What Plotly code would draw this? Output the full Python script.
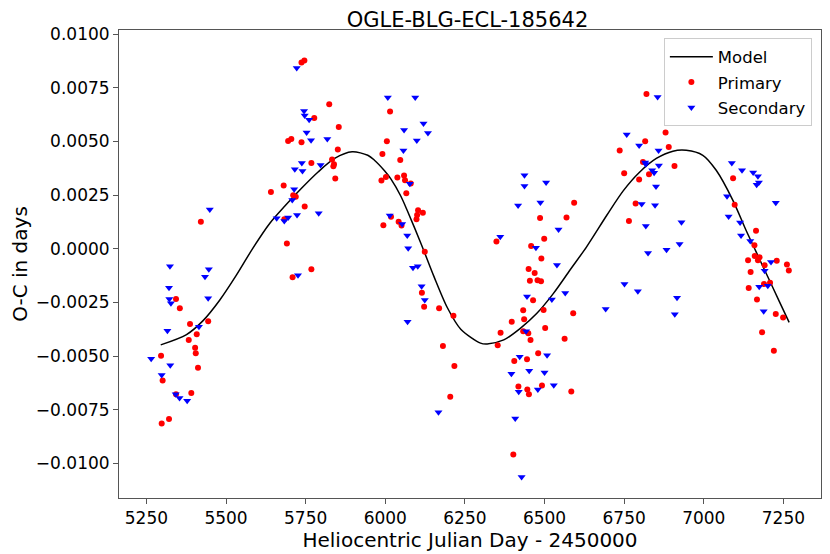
import plotly.graph_objects as go

# O-C diagram values (HJD - 2450000, O-C in days)
primary_hjd = [
    5421, 5343, 5355, 5387, 5444, 5408, 5383, 5403, 5405, 5296, 5412, 5301, 5343, 5391, 5321, 5298,
    5737, 5746, 5824, 5777, 5854, 5695, 5705, 5737, 5851, 5768, 5833, 5839, 5837, 5843, 5681, 5641,
    5711, 5719, 5747, 5683, 5691, 5768, 5709,
    6015, 6005, 5991, 6047, 5988, 6002, 6038, 6059, 6062, 6080, 6066, 6103, 6098, 6118, 6100, 6018,
    6042, 5994, 6051, 6124, 6115, 6122, 6169, 6214, 6181, 6217, 6204,
    6593, 6486, 6569, 6499, 6349, 6458, 6490, 6450, 6469, 6454, 6478, 6489, 6464, 6433, 6497, 6397,
    6436, 6590, 6502, 6362, 6433, 6449, 6456, 6563, 6353, 6480, 6405, 6445, 6418, 6446, 6492, 6451,
    6584, 6402,
    6820, 6880, 6816, 6736, 6890, 6809, 6750, 6828, 6908, 6797, 6786, 6765,
    7092, 7097, 7164, 7159, 7160, 7175, 7170, 7139, 7229, 7191, 7261, 7267, 7147, 7189, 7208, 7141,
    7167, 7226, 7249, 7183, 7220,
]
primary_oc = [
    0.00126, -0.00234, -0.00277, -0.00351, -0.00338, -0.00398, -0.00425, -0.00462, -0.00487, -0.00499,
    -0.00555, -0.00614, -0.00678, -0.00673, -0.00794, -0.00815,
    0.00869, 0.00878, 0.00674, 0.00610, 0.00568, 0.00503, 0.00512, 0.00497, 0.00463, 0.00400,
    0.00416, 0.00394, 0.00385, 0.00328, 0.00295, 0.00265, 0.00249, 0.00242, 0.00197, 0.00138,
    0.00025, -0.00096, -0.00133,
    0.00640, 0.00501, 0.00442, 0.00414, 0.00318, 0.00335, 0.00332, 0.00342, 0.00320, 0.00304,
    0.00259, 0.00180, 0.00138, 0.00168, 0.00157, 0.00149, 0.00126, 0.00110, 0.00109, -0.00014,
    -0.00205, -0.00270, -0.00277, -0.00312, -0.00453, -0.00547, -0.00690,
    0.00214, 0.00144, 0.00146, 0.00047, 0.00034, 0.00013, -0.00045, -0.00094, -0.00113, -0.00149,
    -0.00147, -0.00152, -0.00240, -0.00287, -0.00285, -0.00340, -0.00329, -0.00301, -0.00369,
    -0.00392, -0.00385, -0.00394, -0.00425, -0.00420, -0.00450, -0.00487, -0.00523, -0.00515,
    -0.00642, -0.00656, -0.00638, -0.00678, -0.00666, -0.00959,
    0.00722, 0.00542, 0.00501, 0.00458, 0.00475, 0.00405, 0.00352, 0.00348, 0.00386, 0.00323,
    0.00211, 0.00129,
    0.00329, 0.00205, 0.00084, 0.00017, -0.00034, -0.00040, -0.00054, -0.00054, -0.00056, -0.00077,
    -0.00073, -0.00101, -0.00108, -0.00164, -0.00158, -0.00183, -0.00237, -0.00304, -0.00321,
    -0.00389, -0.00476,
]

secondary_hjd = [
    5449, 5324, 5446, 5434, 5321, 5322, 5327, 5444, 5415, 5316, 5265, 5325, 5298, 5342, 5354, 5378,
    5722, 5745, 5747, 5761, 5753, 5767, 5818, 5738, 5716, 5740, 5797, 5714, 5708, 5659, 5683, 5695,
    5723, 5791, 5726,
    6008, 6094, 6120, 6134, 6059, 6099, 6057, 6077, 6014, 6053, 6069, 6072, 6087, 6102, 6114, 6124,
    6070, 6167,
    6437, 6437, 6505, 6417, 6487, 6544, 6361, 6473, 6539, 6445, 6523, 6565, 6692, 6442, 6422, 6508,
    6396, 6452, 6500, 6419, 6479, 6529, 6408, 6428,
    6855, 6758, 6797, 6858, 6816, 6818, 6859, 6838, 6844, 6850, 6805, 6847, 6818, 6930, 6924, 6883,
    6825, 6751, 6793, 6916, 6909,
    7088, 7120, 7155, 7170, 7166, 7173, 7073, 7226, 7078, 7114, 7117, 7146, 7211, 7191, 7174, 7201,
    7188,
]
secondary_oc = [
    0.00183, -0.00081, -0.00096, -0.00130, -0.00182, -0.00234, -0.00254, -0.00231, -0.00363,
    -0.00382, -0.00513, -0.00543, -0.00588, -0.00678, -0.00696, -0.00708,
    0.00843, 0.00642, 0.00621, 0.00602, 0.00542, 0.00506, 0.00512, 0.00400, 0.00371, 0.00363,
    0.00390, 0.00277, 0.00227, 0.00142, 0.00129, 0.00146, 0.00158, 0.00166, -0.00124,
    0.00705, 0.00705, 0.00584, 0.00540, 0.00554, 0.00505, 0.00458, 0.00303, 0.00155, 0.00116,
    0.00062, 0.00002, -0.00088, -0.00082, -0.00175, -0.00239, -0.00340, -0.00762,
    0.00343, 0.00293, 0.00309, 0.00202, 0.00216, 0.00090, 0.00056, 0.00005, -0.00076, -0.00222,
    -0.00236, -0.00206, -0.00281, -0.00385, -0.00504, -0.00496, -0.00583, -0.00569, -0.00577,
    -0.00667, -0.00656, -0.00636, -0.00791, -0.01064,
    0.00708, 0.00533, 0.00481, 0.00458, 0.00402, 0.00394, 0.00388, 0.00366, 0.00354, 0.00290,
    0.00209, 0.00203, 0.00106, 0.00124, 0.00022, -0.00005, -0.00020, -0.00164, -0.00198,
    -0.00228, -0.00305,
    0.00400, 0.00366, 0.00356, 0.00338, 0.00298, 0.00309, 0.00245, 0.00214, 0.00151, 0.00123,
    0.00062, 0.00036, -0.00062, -0.00102, -0.00177, -0.00172, -0.00291,
]

# fitted model curve
model_hjd = [
    5295, 5376, 5428, 5480, 5533, 5584, 5637, 5684, 5737, 5789, 5841, 5896, 5945, 5966, 5997,
    6018, 6049, 6070, 6112, 6153, 6195, 6237, 6299, 6320, 6372, 6424, 6476, 6528, 6580, 6632,
    6695, 6747, 6799, 6851, 6903, 6945, 6997, 7039, 7091, 7133, 7164, 7195, 7237, 7268,
]
model_oc = [
    -0.00448, -0.00400, -0.00335, -0.00240, -0.00122, 0.00002, 0.00118, 0.00198, 0.00282, 0.00358,
    0.00421, 0.00452, 0.00436, 0.00413, 0.00365, 0.00325, 0.00245, 0.00175, 0.00025, -0.00130,
    -0.00275, -0.00375, -0.00440, -0.00444, -0.00425, -0.00371, -0.00301, -0.00208, -0.00099,
    0.00009, 0.00155, 0.00270, 0.00358, 0.00421, 0.00455, 0.00459, 0.00436, 0.00366, 0.00227,
    0.00085, -0.00013, -0.00112, -0.00245, -0.00343,
]

font_family = "DejaVu Sans, Verdana, sans-serif"

fig = go.Figure()
fig.add_trace(go.Scatter(
    x=model_hjd, y=model_oc, mode='lines', name='Model', legendgroup='m',
    line=dict(color='black', width=1.5, shape='spline', smoothing=0.8)
))
fig.add_trace(go.Scatter(
    x=primary_hjd, y=primary_oc, mode='markers', name='Primary', legendgroup='p',
    marker=dict(color='red', size=6, symbol='circle')
))
fig.add_trace(go.Scatter(
    x=secondary_hjd, y=secondary_oc, mode='markers', name='Secondary', legendgroup='s',
    marker=dict(color='blue', size=7, symbol='triangle-down')
))

axis_common = dict(
    showgrid=False, zeroline=False, showline=True, mirror=True,
    linecolor='#555', linewidth=1, ticks='outside', ticklen=5, tickcolor='#555',
    tickfont=dict(size=17, color='black', family=font_family),
)

# the page body adds an 8px offset, so the figure is 8px smaller than the window
fig.update_layout(
    width=822, height=546,
    margin=dict(l=109, r=8, t=22, b=56),
    paper_bgcolor='white', plot_bgcolor='white',
    font=dict(family=font_family, color='black'),
    title=dict(text='OGLE-BLG-ECL-185642', xref='container', yref='container',
               x=0.559, xanchor='center', y=0.979, yanchor='middle', font=dict(size=21)),
    xaxis=dict(axis_common, range=[5164, 7368], tickmode='array',
               tickvals=[5250, 5500, 5750, 6000, 6250, 6500, 6750, 7000, 7250],
               title=dict(text='Heliocentric Julian Day - 2450000', font=dict(size=20), standoff=0)),
    yaxis=dict(axis_common, range=[-0.01162, 0.0102], tickformat='.4f', dtick=0.0025,
               tick0=0,
               title=dict(text='O-C in days', font=dict(size=20), standoff=6)),
    legend=dict(x=0.987, y=0.982, xanchor='right', yanchor='top',
                traceorder='grouped', tracegroupgap=1, itemwidth=43,
                bgcolor='rgba(255,255,255,0.8)', bordercolor='#cccccc', borderwidth=1,
                font=dict(size=16.5)),
)

fig.write_html("out.html")
